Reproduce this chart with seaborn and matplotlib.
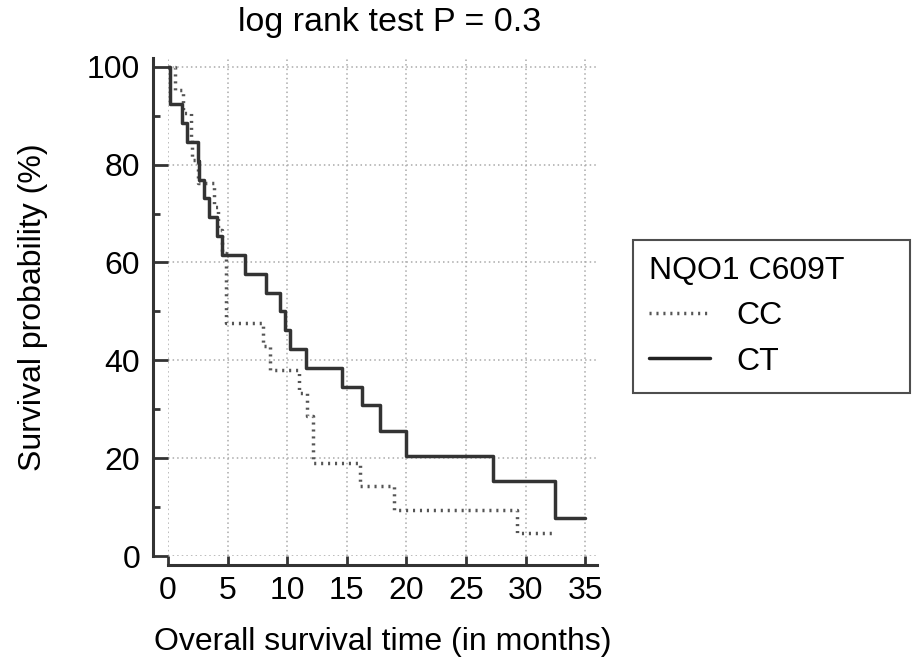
import pandas as pd
import matplotlib
matplotlib.use('Agg')
import matplotlib.pyplot as plt
from matplotlib.ticker import MultipleLocator
import seaborn as sns

# Kaplan-Meier step data (time in months, survival in %)
cc_time = [0, 0.6, 1.3, 1.9, 2.0, 2.5, 3.9, 4.2, 4.5, 4.9, 8.0, 8.6, 11.0, 11.7, 12.2, 16.1, 19.0, 29.3, 32.6]
cc_surv = [100, 95.2, 90.5, 85.7, 81.0, 76.2, 71.4, 66.7, 61.9, 47.6, 42.9, 38.1, 33.3, 28.6, 19.0, 14.3, 9.5, 4.8, 4.8]

ct_time = [0, 0.2, 1.2, 1.6, 2.5, 2.6, 3.0, 3.4, 4.1, 4.5, 6.5, 8.2, 9.4, 9.8, 10.2, 11.6, 14.6, 16.3, 17.8, 20.0, 27.3, 32.5, 35.0]
ct_surv = [100, 92.3, 88.5, 84.6, 80.8, 76.9, 73.1, 69.2, 65.4, 61.5, 57.7, 53.8, 50.0, 46.2, 42.3, 38.5, 34.6, 30.8, 25.6, 20.5, 15.3, 7.7, 7.7]

groups = ['CC', 'CT']
x_ticks = [0, 5, 10, 15, 20, 25, 30, 35]
y_ticks = [0, 20, 40, 60, 80, 100]

df = pd.concat([
    pd.DataFrame({'time': cc_time, 'surv': cc_surv, 'group': 'CC'}),
    pd.DataFrame({'time': ct_time, 'surv': ct_surv, 'group': 'CT'}),
])

sns.set_theme(style='white')
plt.rcParams['font.family'] = ['Liberation Sans', 'DejaVu Sans']
plt.rcParams['text.color'] = 'black'
plt.rcParams['axes.labelcolor'] = 'black'

fs = 23

fig = plt.figure(figsize=(9.13, 6.67), dpi=100)
ax = fig.add_axes([168 / 913, 1 - 556 / 667, 429 / 913, 498 / 667])

sns.lineplot(data=df, x='time', y='surv', hue='group', style='group',
             hue_order=groups, style_order=groups,
             palette={'CC': '#555555', 'CT': '#333333'},
             dashes={'CC': (0.6, 1.4), 'CT': ''},
             drawstyle='steps-post', estimator=None, sort=False,
             linewidth=2.5, legend=False, ax=ax)

ax.set_xlim(0, 36)
ax.set_ylim(0, 101.8)
ax.set_xticks(x_ticks)
ax.set_yticks(y_ticks)
ax.yaxis.set_minor_locator(MultipleLocator(10))
ax.grid(True, which='major', linestyle=(0, (1, 2)), color='#aaaaaa', linewidth=1.1)

sns.despine(ax=ax, offset={'left': 11, 'bottom': 6.5})
for side in ['left', 'bottom']:
    ax.spines[side].set_color('#333333')
    ax.spines[side].set_linewidth(2.2)

ax.tick_params(axis='y', which='major', direction='in', length=10.5, width=2, color='#333333',
               pad=9, labelsize=fs, labelcolor='black', left=True)
ax.tick_params(axis='y', which='minor', direction='in', length=5, width=2, color='#333333', left=True)
ax.tick_params(axis='x', which='major', direction='in', length=6.5, width=2, color='#333333',
               pad=8, labelsize=fs, labelcolor='black', bottom=True)

ax.set_xlabel('Overall survival time (in months)', fontsize=fs, labelpad=15)
ax.set_ylabel('Survival probability (%)', fontsize=fs, labelpad=28)
fig.text(390 / 913, 1 - 22 / 667, 'log rank test P = 0.3', ha='center', va='center', fontsize=24.5)

handles = [
    plt.Line2D([], [], color='#555555', linewidth=2.5, linestyle=(0, (0.6, 1.4))),
    plt.Line2D([], [], color='#222222', linewidth=2.5),
]
leg = fig.legend(handles, groups, title='NQO1 C609T',
                 bbox_to_anchor=(633 / 913, 1 - 383 / 667, 277 / 913, 143 / 667),
                 loc='upper left', mode='expand', fontsize=fs, title_fontsize=fs,
                 frameon=True, fancybox=False, edgecolor='#222222',
                 handlelength=1.9, handletextpad=0.85, labelspacing=0.48,
                 borderpad=0.5, borderaxespad=0, alignment='left')
leg.get_frame().set_linewidth(1.5)

fig.savefig('out.png', dpi=100, facecolor='white')
